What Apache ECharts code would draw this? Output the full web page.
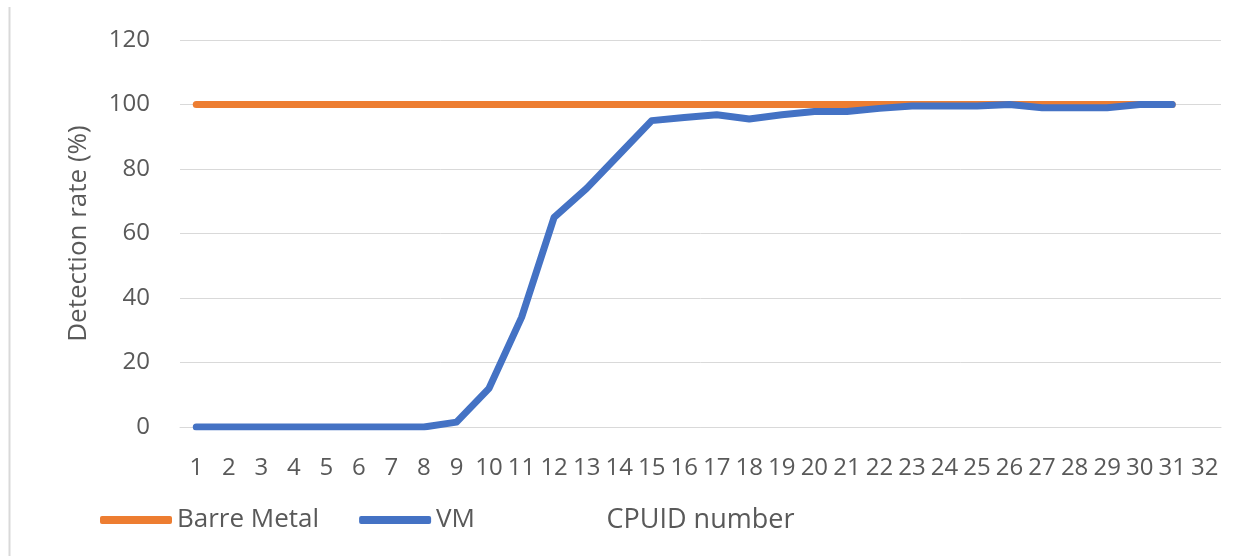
<!DOCTYPE html>
<html>
<head>
<meta charset="utf-8">
<script src="https://cdn.jsdelivr.net/npm/echarts@6/dist/echarts.min.js"></script>
<style>
  html, body { margin: 0; padding: 0; background: #fff; }
  #chart { width: 1251px; height: 556px; }
</style>
</head>
<body>
<div id="chart"></div>
<script>
// CPUID number 1..32
const categories = ['1', '2', '3', '4', '5', '6', '7', '8', '9', '10', '11', '12', '13', '14', '15', '16',
  '17', '18', '19', '20', '21', '22', '23', '24', '25', '26', '27', '28', '29', '30', '31', '32'];
// detection rate (%)
const bareMetal = [100, 100, 100, 100, 100, 100, 100, 100, 100, 100, 100, 100, 100, 100, 100, 100,
  100, 100, 100, 100, 100, 100, 100, 100, 100, 100, 100, 100, 100, 100, 100];
const vm = [0, 0, 0, 0, 0, 0, 0, 0, 1.5, 12, 34, 65, 74, 84.5, 95, 96,
  96.8, 95.5, 96.8, 97.8, 97.8, 98.8, 99.5, 99.5, 99.5, 100, 99, 99, 99, 100, 100];
const yTicks = { min: 0, max: 120, interval: 20 };

const textColor = '#595959';
const gridColor = '#d9d9d9';
const font = '"Open Sans", "Liberation Sans", sans-serif';

const chart = echarts.init(document.getElementById('chart'));
const option = {
  animation: false,
  backgroundColor: '#fff',
  textStyle: { fontFamily: font, color: textColor },
  graphic: [
    // chart border, left side
    {
      type: 'line',
      shape: { x1: 9.5, y1: 7, x2: 9.5, y2: 556 },
      style: { stroke: gridColor, lineWidth: 2 },
      silent: true,
    },
  ],
  grid: {
    left: 180,
    right: 30,
    top: 40,
    bottom: 129,
  },
  legend: {
    left: 100,
    top: 507,
    padding: 0,
    itemWidth: 72,
    itemHeight: 8,
    itemGap: 40,
    icon: 'roundRect',
    textStyle: { fontFamily: font, fontSize: 26, color: textColor },
    data: ['Barre Metal', 'VM'],
  },
  xAxis: {
    type: 'category',
    data: categories,
    boundaryGap: true,
    name: 'CPUID number',
    nameLocation: 'middle',
    nameGap: 80,
    nameTextStyle: { fontFamily: font, fontSize: 27, color: textColor },
    axisLine: { show: true, lineStyle: { color: gridColor, width: 1 } },
    axisTick: { show: false },
    axisLabel: {
      interval: 0,
      margin: 29,
      fontFamily: font,
      fontSize: 24,
      color: textColor,
    },
  },
  yAxis: {
    type: 'value',
    min: yTicks.min,
    max: yTicks.max,
    interval: yTicks.interval,
    name: 'Detection rate (%)',
    nameLocation: 'middle',
    nameGap: 88,
    nameTextStyle: { fontFamily: font, fontSize: 26, color: textColor },
    axisLine: { show: false },
    axisTick: { show: false },
    axisLabel: { margin: 30, fontFamily: font, fontSize: 24, color: textColor },
    splitLine: { lineStyle: { color: gridColor, width: 1 } },
  },
  series: [
    {
      name: 'Barre Metal',
      type: 'line',
      data: bareMetal,
      symbol: 'none',
      color: '#ed7d31',
      lineStyle: { width: 7, color: '#ed7d31', cap: 'round', join: 'round' },
    },
    {
      name: 'VM',
      type: 'line',
      data: vm,
      symbol: 'none',
      color: '#4472c4',
      lineStyle: { width: 7, color: '#4472c4', cap: 'round', join: 'round' },
    },
  ],
};
chart.setOption(option);
</script>
</body>
</html>
